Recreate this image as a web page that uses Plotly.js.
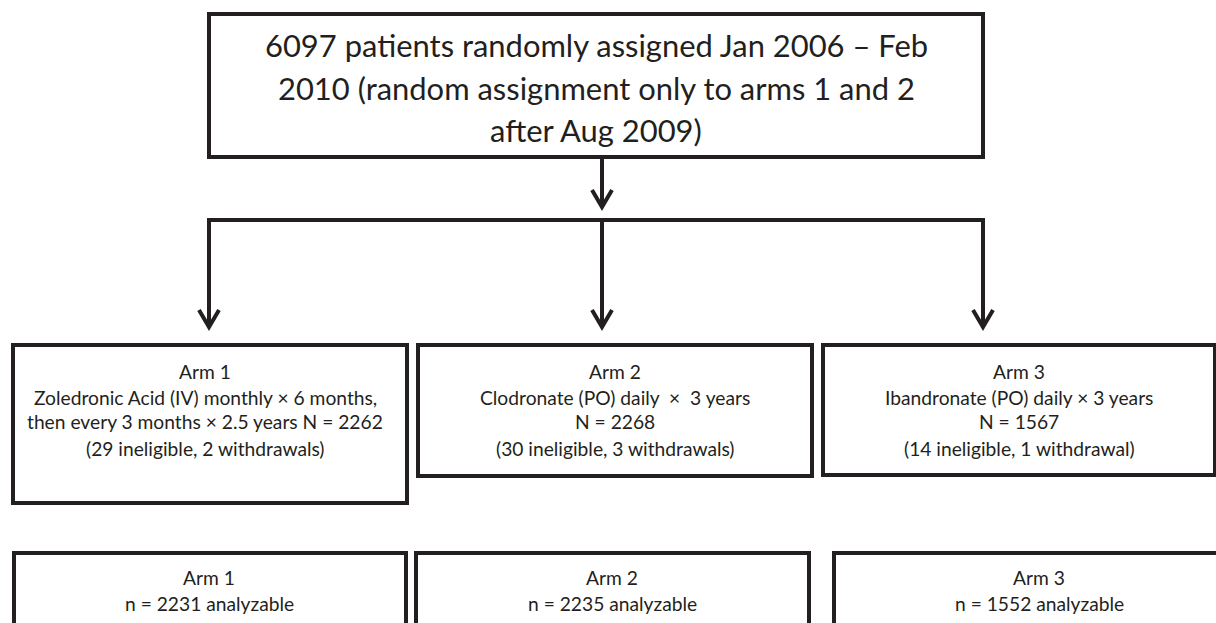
<!DOCTYPE html>
<html>
<head>
<meta charset="utf-8">
<script src="https://cdn.plot.ly/plotly-3.0.1.min.js"></script>
<style>html,body{margin:0;padding:0;background:#fff;}#chart{width:1216px;height:623px;}</style>
</head>
<body>
<div id="chart"></div>
<script>
// ---- data ----
const totalRandomized = 6097;
const topLines = [
  totalRandomized + " patients randomly assigned Jan 2006 \u2013 Feb",
  "2010 (random assignment only to arms 1 and 2",
  "after Aug 2009)"
];
const armNames = ["Arm 1", "Arm 2", "Arm 3"];
const armTreatment = [
  ["Zoledronic Acid (IV) monthly \u00d7 6 months,", "then every 3 months \u00d7 2.5 years"],
  ["Clodronate (PO) daily\u00a0 \u00d7\u00a0 3 years"],
  ["Ibandronate (PO) daily \u00d7 3 years"]
];
const armN = [2262, 2268, 1567];
const armIneligible = [29, 30, 14];
const armWithdrawals = [2, 3, 1];
const armAnalyzable = [2231, 2235, 1552];

// ---- styling / layout helpers ----
const INK = "#231f20";
const FAMILY = "Lato, 'Open Sans', sans-serif";
const cv = document.createElement("canvas").getContext("2d");
function fit(text, target) {
  cv.font = "100px Lato";
  return 100 * target / cv.measureText(text).width;
}
const topSize = fit(topLines[0], 665);
const armSize = fit(armTreatment[0][1] + " N = " + armN[0], 357);

const upperBoxes = [[13, 345, 407, 503], [418, 345, 812, 476], [823, 345, 1215, 475]];
const lowerBoxes = [[14, 553, 406, 660], [416, 553, 809, 660], [834, 553, 1245, 660]];
const topBox = [209, 14, 983, 157];

const shapes = [];
function rect(b) {
  shapes.push({type: "rect", xref: "x", yref: "y", x0: b[0], y0: b[1], x1: b[2], y1: b[3],
    line: {color: INK, width: 4}, fillcolor: "rgba(0,0,0,0)"});
}
function path(d) {
  shapes.push({type: "path", xref: "x", yref: "y", path: d, line: {color: INK, width: 4}});
}
function chevron(x, y) { path(`M${x - 10},${y - 17} L${x},${y} L${x + 10},${y - 17}`); }

rect(topBox);
upperBoxes.forEach(rect);
lowerBoxes.forEach(rect);
const midX = 602;
path(`M${midX},${topBox[3]} L${midX},206`);
chevron(midX, 207);
const armX = [209, 602, 983];
path(`M${armX[0]},326 L${armX[0]},220 L${armX[2]},220 L${armX[2]},326`);
path(`M${armX[1]},220 L${armX[1]},326`);
armX.forEach(x => chevron(x, 327));

const annotations = [];
function txt(x, y, s, size) {
  annotations.push({xref: "x", yref: "y", x: x, y: y, text: s, showarrow: false,
    xanchor: "center", yanchor: "middle", font: {family: FAMILY, size: size, color: INK}});
}
const topY = [45, 88, 130];
topLines.forEach((s, i) => txt(596, topY[i], s, topSize));

const upperCx = [205, 615, 1019];
armNames.forEach((name, i) => {
  const lines = [name];
  if (armTreatment[i].length > 1) {
    lines.push(armTreatment[i][0]);
    lines.push(armTreatment[i][1] + " N = " + armN[i]);
  } else {
    lines.push(armTreatment[i][0]);
    lines.push("N = " + armN[i]);
  }
  lines.push("(" + armIneligible[i] + " ineligible, " + armWithdrawals[i] + " withdrawal" + (armWithdrawals[i] > 1 ? "s" : "") + ")");
  const ys = [371, 397, 421, 448];
  lines.forEach((s, j) => txt(upperCx[i], ys[j], s, armSize));
});
const lowerCx = [209, 612, 1039];
armNames.forEach((name, i) => {
  txt(lowerCx[i], 577, name, armSize);
  txt(lowerCx[i], 603, "n = " + armAnalyzable[i] + " analyzable", armSize);
});

Plotly.newPlot("chart", [], {
  width: 1216, height: 623,
  margin: {l: 0, r: 0, t: 0, b: 0},
  paper_bgcolor: "#fff", plot_bgcolor: "#fff",
  xaxis: {range: [0, 1216], visible: false, fixedrange: true},
  yaxis: {range: [623, 0], visible: false, fixedrange: true},
  showlegend: false,
  shapes: shapes,
  annotations: annotations
}, {staticPlot: true});
</script>
</body>
</html>
